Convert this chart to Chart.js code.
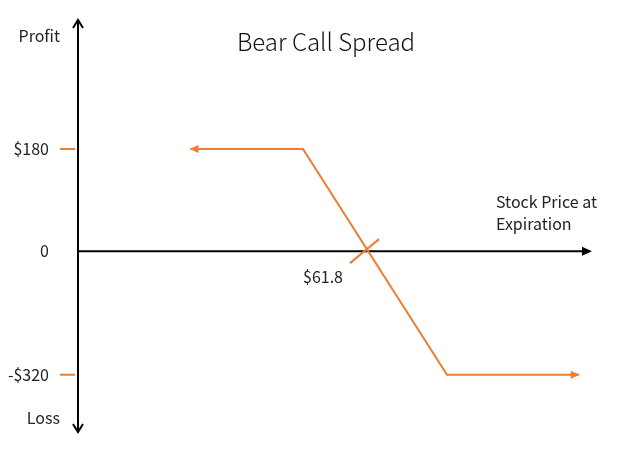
<!DOCTYPE html>
<html>
<head>
<meta charset="utf-8">
<script src="https://cdn.jsdelivr.net/npm/chart.js@4/dist/chart.umd.min.js"></script>
<style>
  body { margin: 0; background: #fff; }
  #wrap { width: 638px; height: 469px; }
</style>
</head>
<body>
<div id="wrap"><canvas id="graficoSpread"></canvas></div>
<script>
// payoff at expiration, short 60 call / long 65 call, credit $1.80
const prices = [55, 60, 65, 71];
const profit = [180, 180, -320, -320];
const yTickValues = [180, 0, -320];
const yTickLabels = ["$180", "0", "-$320"];
const breakeven = 61.8;
const breakevenLabel = "$61.8";

const ORANGE = "#ED7D31";
const FONT = "'Noto Sans CJK SC', 'Noto Sans', sans-serif";

// the drawing is schematic, so each axis is stretched piece by piece
const anchors = {
  x: [[50, 0], [60, 0.4377], [61.8, 0.5642], [65, 0.7179], [71.6, 1]],
  y: [[-465, 0], [-320, 0.139], [0, 0.439], [180, 0.687], [408, 1]]
};

class PiecewiseScale extends Chart.LinearScale {
  getPixelForValue(value) {
    const a = anchors[this.id];
    let i = 0;
    while (i < a.length - 2 && value > a[i + 1][0]) i++;
    const f = a[i][1] + (value - a[i][0]) / (a[i + 1][0] - a[i][0]) * (a[i + 1][1] - a[i][1]);
    return this.getPixelForDecimal(f);
  }
  getValueForPixel(pixel) {
    const a = anchors[this.id];
    const f = this.getDecimalForPixel(pixel);
    let i = 0;
    while (i < a.length - 2 && f > a[i + 1][1]) i++;
    return a[i][0] + (f - a[i][1]) / (a[i + 1][1] - a[i][1]) * (a[i + 1][0] - a[i][0]);
  }
}
PiecewiseScale.id = "piecewise";
PiecewiseScale.defaults = Chart.LinearScale.defaults;
Chart.register(PiecewiseScale);

function arrowHead(ctx, tipX, tipY, dirX, dirY, len, half, filled) {
  const bx = tipX - dirX * len, by = tipY - dirY * len;
  const px = -dirY * half, py = dirX * half;
  ctx.beginPath();
  ctx.moveTo(bx + px, by + py);
  ctx.lineTo(tipX, tipY);
  ctx.lineTo(bx - px, by - py);
  if (filled) { ctx.closePath(); ctx.fill(); } else { ctx.stroke(); }
}

const diagrama = {
  id: "diagrama",
  beforeDatasetsDraw(chart) {
    const { ctx, chartArea: area, scales: { x, y } } = chart;
    const y0 = y.getPixelForValue(0);
    ctx.save();
    ctx.strokeStyle = "#000";
    ctx.fillStyle = "#000";
    ctx.lineWidth = 2;
    // y axis
    ctx.beginPath();
    ctx.moveTo(area.left, area.top + 1);
    ctx.lineTo(area.left, area.bottom - 1);
    ctx.stroke();
    arrowHead(ctx, area.left, area.top, 0, -1, 8, 5, false);
    arrowHead(ctx, area.left, area.bottom, 0, 1, 8, 5, false);
    // x axis
    ctx.beginPath();
    ctx.moveTo(area.left, y0);
    ctx.lineTo(area.right - 6, y0);
    ctx.stroke();
    arrowHead(ctx, area.right, y0, 1, 0, 10, 4.5, true);

    // y ticks
    ctx.font = "16px " + FONT;
    ctx.textBaseline = "middle";
    ctx.textAlign = "right";
    yTickValues.forEach((v, i) => {
      const py = y.getPixelForValue(v);
      ctx.fillStyle = "#222";
      ctx.fillText(yTickLabels[i], area.left - 29, py);
      if (v !== 0) {
        ctx.strokeStyle = ORANGE;
        ctx.beginPath();
        ctx.moveTo(area.left - 18, py);
        ctx.lineTo(area.left - 3, py);
        ctx.stroke();
      }
    });

    // axis names
    ctx.fillStyle = "#222";
    ctx.fillText("Profit", area.left - 18, 36);
    ctx.fillText("Loss", area.left - 18, 418);
    ctx.textAlign = "left";
    ctx.fillText("Stock Price at", 496, 202);
    ctx.fillText("Expiration", 496, 224);

    // title
    ctx.font = "300 24px " + FONT;
    ctx.fillStyle = "#111";
    ctx.textAlign = "center";
    ctx.fillText("Bear Call Spread", 326, 42);
    ctx.restore();
  },
  afterDatasetsDraw(chart) {
    const { ctx, scales: { x, y } } = chart;
    const pts = chart.getDatasetMeta(0).data;
    ctx.save();
    ctx.fillStyle = ORANGE;
    ctx.strokeStyle = ORANGE;
    ctx.lineWidth = 2;
    const first = pts[0], last = pts[pts.length - 1];
    arrowHead(ctx, first.x - 1, first.y, -1, 0, 9, 4, true);
    arrowHead(ctx, last.x + 1, last.y, 1, 0, 9, 4, true);

    // breakeven marker
    const bx = x.getPixelForValue(breakeven), by = y.getPixelForValue(0);
    ctx.beginPath();
    ctx.moveTo(bx - 18, by + 12);
    ctx.lineTo(bx + 11, by - 12);
    ctx.stroke();
    ctx.font = "16px " + FONT;
    ctx.fillStyle = "#222";
    ctx.textAlign = "center";
    ctx.textBaseline = "middle";
    ctx.fillText(breakevenLabel, bx - 45, by + 26);
    ctx.restore();
  }
};

new Chart(document.getElementById("graficoSpread"), {
  type: "line",
  data: {
    datasets: [
      {
        label: "Profit",
        data: prices.map((p, i) => ({ x: p, y: profit[i] })),
        borderColor: ORANGE,
        borderWidth: 2,
        pointRadius: 0,
        tension: 0,
        fill: false
      }
    ]
  },
  options: {
    responsive: true,
    maintainAspectRatio: false,
    animation: false,
    layout: { padding: { left: 78, right: 46, top: 20, bottom: 37 } },
    plugins: {
      legend: { display: false },
      tooltip: { enabled: false }
    },
    scales: {
      x: { type: "piecewise", min: 50, max: 71.6, display: false },
      y: { type: "piecewise", min: -465, max: 408, display: false }
    }
  },
  plugins: [diagrama]
});
</script>
</body>
</html>
